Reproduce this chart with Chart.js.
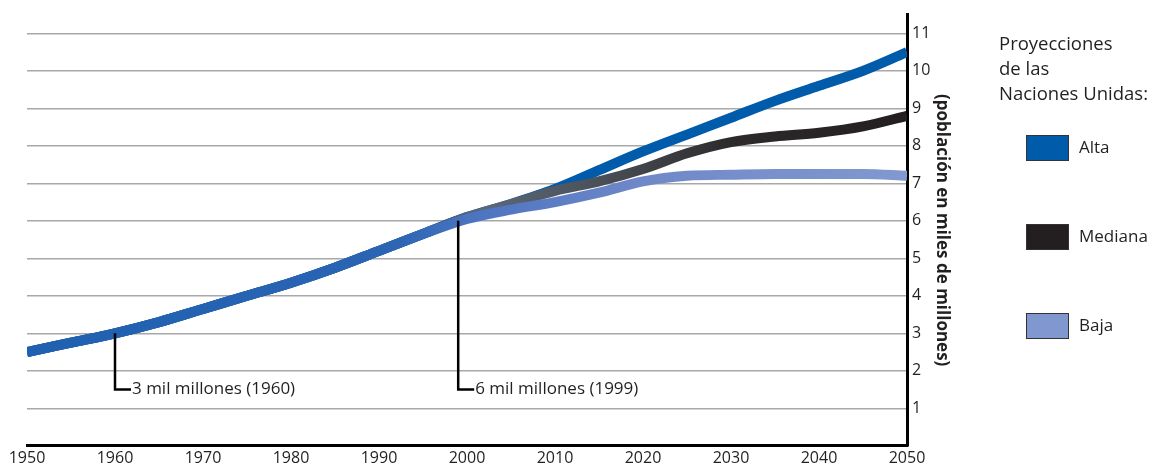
<!DOCTYPE html>
<html>
<head>
<meta charset="utf-8">
<script src="https://cdn.jsdelivr.net/npm/chart.js@4.4.0/dist/chart.umd.min.js"></script>
<style>
html,body{margin:0;padding:0;background:#fff;}
#wrap{position:relative;width:1164px;height:471px;}
canvas{position:absolute;left:0;top:0;}
.lg{position:absolute;font-family:"Open Sans",sans-serif;color:#231f20;}
.lgt{left:999px;top:30px;font-size:18.5px;line-height:25px;}
.sw{position:absolute;left:1026px;width:41px;height:24px;border:1px solid #333;}
.lbl{position:absolute;left:1079px;font-size:17px;font-family:"Open Sans",sans-serif;color:#231f20;}
</style>
</head>
<body>
<div id="wrap">
<canvas id="c" width="1164" height="471"></canvas>
<div class="lg lgt">Proyecciones<br>de las<br>Naciones Unidas:</div>
<div class="sw" style="top:135px;background:#005bab"></div><div class="lbl" style="top:135px">Alta</div>
<div class="sw" style="top:224px;background:#231f20"></div><div class="lbl" style="top:224px">Mediana</div>
<div class="sw" style="top:313px;background:#8098cf"></div><div class="lbl" style="top:313px">Baja</div>
</div>
<script>
// Data (population, thousands of millions)
const years   = [1950,1955,1960,1965,1970,1975,1980,1985,1990,1995,2000,2005,2010,2015,2020,2025,2030,2035,2040,2045,2050];
const alta    = [2.5,2.75,3.0,3.3,3.65,4.0,4.35,4.75,5.2,5.65,6.1,6.45,6.85,7.35,7.85,8.3,8.75,9.2,9.6,10.0,10.5];
const mediana = [2.5,2.75,3.0,3.3,3.65,4.0,4.35,4.75,5.2,5.65,6.1,6.45,6.8,7.05,7.38,7.8,8.1,8.25,8.35,8.52,8.8];
const baja    = [2.5,2.75,3.0,3.3,3.65,4.0,4.35,4.75,5.2,5.65,6.05,6.3,6.5,6.75,7.05,7.2,7.23,7.25,7.25,7.25,7.2];
const seriesNames = ['Baja','Mediana','Alta'];
const xTicks = [1950,1960,1970,1980,1990,2000,2010,2020,2030,2040,2050];
const yTicks = [1,2,3,4,5,6,7,8,9,10,11];
const annoYears  = [1960, 1999];
const annoValues = [3, 6];
const annoLabelY = 1.5;
const annoLabels = ['3 mil millones (1960)', '6 mil millones (1999)'];

const pts = arr => years.map((y,i)=>({x:y,y:arr[i]}));

function grad(stops){
  return (ctx)=>{
    const ch = ctx.chart; const a = ch.chartArea;
    if(!a) return stops[stops.length-1][1];
    const g = ch.ctx.createLinearGradient(a.left,0,a.right,0);
    stops.forEach(s=>g.addColorStop(s[0],s[1]));
    return g;
  };
}

const annoPlugin = {
  id:'anno',
  afterDatasetsDraw(chart){
    const {ctx, scales:{x,y}} = chart;
    ctx.save();
    annoYears.forEach((yr,i)=>{
      const px = x.getPixelForValue(yr);
      const py0 = y.getPixelForValue(annoValues[i]);
      const py1 = y.getPixelForValue(annoLabelY);
      ctx.strokeStyle='#000'; ctx.lineWidth=2.5;
      ctx.beginPath(); ctx.moveTo(px,py0); ctx.lineTo(px,py1); ctx.lineTo(px+16,py1); ctx.stroke();
      ctx.fillStyle='#231f20'; ctx.font='17px "Open Sans"'; ctx.textBaseline='middle'; ctx.textAlign='left';
      ctx.fillText(annoLabels[i], px+17, py1);
    });
    ctx.restore();
  }
};

new Chart(document.getElementById('c'),{
  type:'line',
  data:{datasets:[
    {label:seriesNames[0], data:pts(baja), borderWidth:10, pointRadius:0,
      borderColor:grad([[0,'#1f60b0'],[0.42,'#2b65b4'],[0.5,'#4a73c0'],[0.7,'#7088c8'],[1,'#8199cf']])},
    {label:seriesNames[1], data:pts(mediana), borderWidth:10, pointRadius:0,
      borderColor:grad([[0,'#2a5f9a'],[0.45,'#3a5f8a'],[0.52,'#5a6878'],[0.65,'#4a5058'],[0.8,'#2d2a2c'],[1,'#231f20']])},
    {label:seriesNames[2], data:pts(alta), borderWidth:10, pointRadius:0, borderColor:'#005bab'}
  ]},
  options:{
    responsive:false, animation:false,
    cubicInterpolationMode:'monotone',
    layout:{padding:{left:27,right:212,top:10,bottom:0}},
    plugins:{legend:{display:false},tooltip:{enabled:false}},
    scales:{
      x:{type:'linear',min:1950,max:2050,
        afterBuildTicks:s=>{s.ticks=xTicks.map(v=>({value:v}));},
        grid:{display:false,drawTicks:false},
        border:{display:true,color:'#000',width:3},
        ticks:{color:'#231f20',font:{family:'"Open Sans"',size:16},padding:3,maxRotation:0,autoSkip:false,
          callback:v=>String(v)}
      },
      y:{type:'linear',position:'right',min:0,max:11.5,
        afterBuildTicks:s=>{s.ticks=[0].concat(yTicks).map(v=>({value:v}));},
        afterFit:s=>{s.width=45;},
        grid:{drawTicks:false,color:c=>c.tick && c.tick.value>0 ? '#a8a8a8':'rgba(0,0,0,0)',lineWidth:1.5},
        border:{display:true,color:'#000',width:3},
        ticks:{color:'#231f20',font:{family:'"Open Sans"',size:16},padding:5,
          callback:v=> v>0 ? String(v) : ''},
        title:{display:true,text:'(población en miles de millones)',color:'#231f20',
          font:{family:'"Open Sans"',size:17,weight:'bold'},padding:0}
      }
    }
  },
  plugins:[annoPlugin]
});
</script>
</body>
</html>
